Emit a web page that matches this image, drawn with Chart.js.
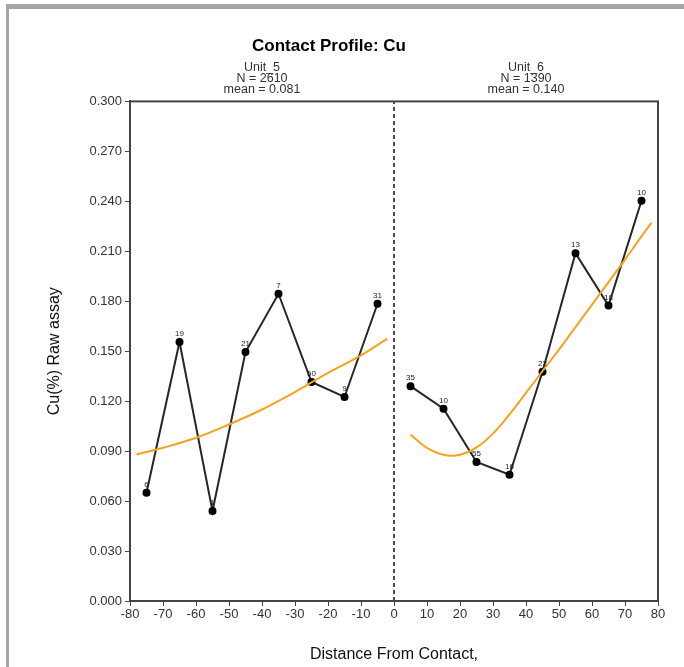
<!DOCTYPE html>
<html>
<head>
<meta charset="utf-8">
<script src="https://cdn.jsdelivr.net/npm/chart.js@4/dist/chart.umd.min.js"></script>
<style>
  body { margin: 0; background: #fff; }
  #wrap { position: relative; width: 684px; height: 667px; }
  #frame { position: absolute; left: 6px; top: 4px; right: 0; bottom: 0;
           border-top: 5px solid #a6a6a6; border-left: 3px solid #a6a6a6; pointer-events: none; }
</style>
</head>
<body>
<div id="wrap">
  <canvas id="myChart" width="684" height="667"></canvas>
  <div id="frame"></div>
</div>
<script>
// profile values, averaged per 10 m bin
const unit5X = [-75, -65, -55, -45, -35, -25, -15, -5];
const unit5Y = [0.065, 0.1555, 0.054, 0.1495, 0.1845, 0.1315, 0.1225, 0.1785];
const unit5Counts = ['6', '19', '1', '21', '7', '50', '9', '31'];

const unit6X = [5, 15, 25, 35, 45, 55, 65, 75];
const unit6Y = [0.129, 0.1155, 0.0835, 0.0758, 0.1377, 0.2088, 0.1774, 0.2403];
const unit6Counts = ['35', '10', '55', '16', '22', '13', '18', '10'];

// trend curves
const trend5X = [-78, -70, -60, -50, -40, -30, -20, -10, -2];
const trend5Y = [0.088, 0.092, 0.098, 0.106, 0.115, 0.1255, 0.137, 0.1475, 0.1575];
const trend6X = [5, 10, 15, 20, 25, 30, 35, 40, 45, 50, 55, 60, 65, 70, 75, 78];
const trend6Y = [0.0998, 0.092, 0.0878, 0.0878, 0.0922, 0.1005, 0.112, 0.125, 0.138, 0.151, 0.1645,
                 0.178, 0.1915, 0.205, 0.219, 0.227];

const contactX = [0, 0];
const contactY = [0, 0.3];

const units = [
  { name: 'Unit_5', n: '2610', mean: '0.081', at: -40 },
  { name: 'Unit_6', n: '1390', mean: '0.140', at: 40 }
];

const xTicks = [-80, -70, -60, -50, -40, -30, -20, -10, 0, 10, 20, 30, 40, 50, 60, 70, 80];

const pts = (xs, ys) => xs.map((x, i) => ({ x: x, y: ys[i] }));
const font = 'Liberation Sans, Arial, sans-serif';

// small count labels above the points + box and unit headers
const extras = {
  id: 'extras',
  afterDatasetsDraw(chart) {
    const ctx = chart.ctx;
    const area = chart.chartArea;
    ctx.save();
    ctx.fillStyle = '#222';
    ctx.font = '8px ' + font;
    ctx.textAlign = 'center';
    ctx.textBaseline = 'bottom';
    chart.data.datasets.forEach((ds, i) => {
      if (!ds.counts) return;
      chart.getDatasetMeta(i).data.forEach((el, j) => {
        ctx.fillText(ds.counts[j], el.x, el.y - 4);
      });
    });
    ctx.strokeStyle = '#444';
    ctx.lineWidth = 2;
    ctx.strokeRect(area.left, area.top, area.right - area.left, area.bottom - area.top);

    ctx.fillStyle = '#333';
    ctx.font = '12.5px ' + font;
    ctx.textBaseline = 'middle';
    units.forEach(u => {
      const x = chart.scales.x.getPixelForValue(u.at);
      ctx.fillText(u.name, x, area.top - 34);
      ctx.fillText('N = ' + u.n, x, area.top - 23);
      ctx.fillText('mean = ' + u.mean, x, area.top - 12);
    });
    ctx.restore();
  }
};

const ctx = document.getElementById('myChart').getContext('2d');
const myChart = new Chart(ctx, {
  type: 'scatter',
  data: {
    datasets: [
      {
        data: pts(contactX, contactY),
        showLine: true, borderColor: '#111', borderWidth: 1.5, borderDash: [4, 3],
        pointRadius: 0
      },
      {
        data: pts(trend5X, trend5Y),
        showLine: true, borderColor: '#f5a21e', borderWidth: 2,
        tension: 0.4, pointRadius: 0
      },
      {
        data: pts(trend6X, trend6Y),
        showLine: true, borderColor: '#f5a21e', borderWidth: 2,
        tension: 0.4, pointRadius: 0
      },
      {
        data: pts(unit5X, unit5Y), counts: unit5Counts,
        showLine: true, borderColor: '#262626', borderWidth: 2,
        pointRadius: 3, pointBackgroundColor: '#000', pointBorderColor: '#000'
      },
      {
        data: pts(unit6X, unit6Y), counts: unit6Counts,
        showLine: true, borderColor: '#262626', borderWidth: 2,
        pointRadius: 3, pointBackgroundColor: '#000', pointBorderColor: '#000'
      }
    ]
  },
  options: {
    responsive: false,
    animation: false,
    layout: { padding: { left: 0, right: 26, top: 0, bottom: 0 } },
    plugins: {
      legend: { display: false },
      tooltip: { enabled: false },
      title: {
        display: true,
        text: 'Contact Profile: Cu',
        color: '#000',
        font: { family: font, size: 17, weight: 'bold' },
        padding: { top: 36, bottom: 45 }
      }
    },
    scales: {
      x: {
        type: 'linear', min: -80, max: 80,
        afterBuildTicks: (s) => { s.ticks = xTicks.map(v => ({ value: v })); },
        afterFit: (s) => { s.height = 66; },
        grid: { drawOnChartArea: false, drawTicks: true, tickLength: 5, color: '#444' },
        border: { display: true, color: '#444', width: 2 },
        ticks: { color: '#333', font: { family: font, size: 13 }, padding: 1, maxRotation: 0 },
        title: {
          display: true, text: 'Distance From Contact,', color: '#111',
          font: { family: font, size: 16 }, padding: { top: 0, bottom: 3 }
        }
      },
      y: {
        min: 0, max: 0.3,
        afterBuildTicks: (s) => {
          s.ticks = [0, 1, 2, 3, 4, 5, 6, 7, 8, 9, 10].map(i => ({ value: i * 0.03 }));
        },
        afterFit: (s) => { s.width = 130; },
        grid: { drawOnChartArea: false, drawTicks: true, tickLength: 5, color: '#444' },
        border: { display: true, color: '#444', width: 2 },
        ticks: {
          color: '#333', font: { family: font, size: 13 }, padding: 3,
          callback: (v) => v.toFixed(3)
        },
        title: {
          display: true, text: 'Cu(%) Raw assay', color: '#111',
          font: { family: font, size: 16 }, padding: { top: 45, bottom: 0 }
        }
      }
    }
  },
  plugins: [extras]
});
</script>
</body>
</html>
